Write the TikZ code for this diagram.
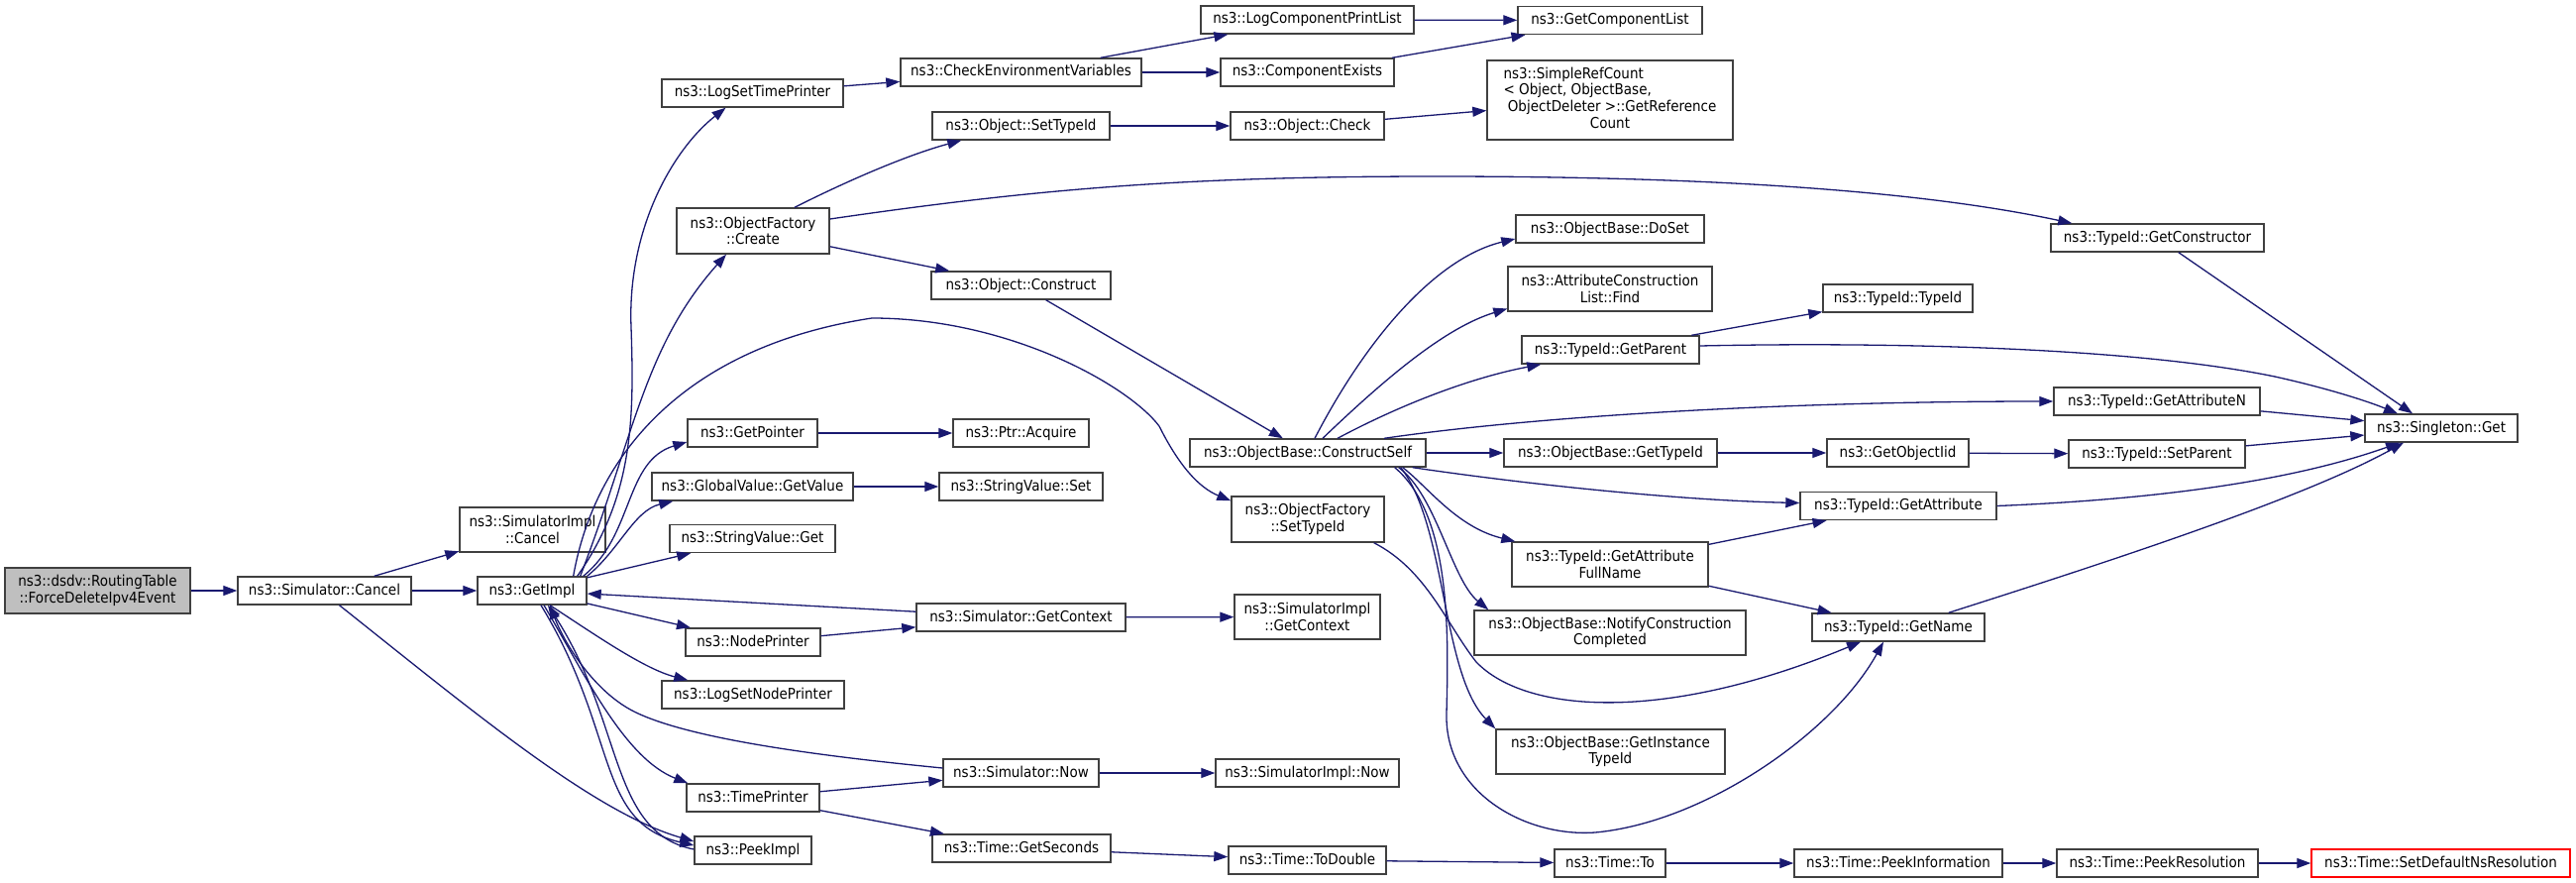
\documentclass[tikz,border=0pt]{standalone}
\usepackage{fontspec}
\setmainfont{DejaVu Sans}[FakeStretch=0.9]
\usetikzlibrary{arrows.meta}
\definecolor{edgec}{HTML}{191970}
\definecolor{boxc}{HTML}{404040}
\definecolor{rootc}{HTML}{BFBFBF}
\tikzset{
 fnbase/.style={draw=boxc, fill=white, line width=1.4pt, inner sep=0pt, font=\fontsize{15}{16.7}\selectfont},
 fn/.style={fnbase, minimum height=28pt, text height=11.5pt, text depth=3.5pt},
 fnm/.style={fnbase, align=center, minimum height=45pt},
 w/.style={minimum width=#1pt},
 call/.style={draw=edgec, line width=1.3pt, -{Triangle[length=14pt,width=10pt]}}
}
\begin{document}
\begin{tikzpicture}[x=1pt,y=-1pt]
\useasboundingbox (0,0) rectangle (2600,891);
\fill[white] (0,0) rectangle (2600,891);
% column 0
\node[fnm, w=187, minimum height=46pt, fill=rootc] (root) at (98.5,596) {ns3::dsdv::RoutingTable\\::ForceDeleteIpv4Event};
\node[fn, w=175] (cancel) at (327.5,596) {ns3::Simulator::Cancel};
\node[fnm, w=147] (implcancel) at (537.5,534.5) {ns3::SimulatorImpl\\::Cancel};
\node[fn, w=110] (getimpl) at (537,596) {ns3::GetImpl};
% column 1
\node[fn, w=183] (logsettime) at (759.5,94) {ns3::LogSetTimePrinter};
\node[fnm, w=154, minimum height=46pt] (ofcreate) at (760,233) {ns3::ObjectFactory\\::Create};
\node[fn, w=131] (getpointer) at (759.5,437) {ns3::GetPointer};
\node[fn, w=203] (getvalue) at (759.5,491) {ns3::GlobalValue::GetValue};
\node[fn, w=167] (svget) at (759.5,543.5) {ns3::StringValue::Get};
\node[fn, w=136] (nodeprinter) at (760,648) {ns3::NodePrinter};
\node[fn, w=184] (logsetnode) at (760,701) {ns3::LogSetNodePrinter};
\node[fn, w=134] (timeprinter) at (760,805) {ns3::TimePrinter};
\node[fn, w=118] (peekimpl) at (760,858) {ns3::PeekImpl};
% column 2
\node[fn, w=243] (checkenv) at (1030.5,73) {ns3::CheckEnvironmentVariables};
\node[fn, w=179] (objsettypeid) at (1030.5,127) {ns3::Object::SetTypeId};
\node[fn, w=181] (objconstruct) at (1030.5,288) {ns3::Object::Construct};
\node[fn, w=137] (ptracquire) at (1030.5,437) {ns3::Ptr::Acquire};
\node[fn, w=165] (svset) at (1030.5,491) {ns3::StringValue::Set};
\node[fn, w=211] (getcontext) at (1030.5,623) {ns3::Simulator::GetContext};
\node[fn, w=157] (simnow) at (1030.5,780) {ns3::Simulator::Now};
\node[fn, w=180] (getseconds) at (1031,856) {ns3::Time::GetSeconds};
% column 3
\node[fn, w=215] (logcompprint) at (1319.5,20) {ns3::LogComponentPrintList};
\node[fn, w=175] (compexists) at (1319.5,73) {ns3::ComponentExists};
\node[fn, w=155] (objcheck) at (1319.5,127) {ns3::Object::Check};
\node[fn, w=238] (constructself) at (1320,457) {ns3::ObjectBase::ConstructSelf};
\node[fnm, w=154, minimum height=46pt] (ofsettypeid) at (1320,524) {ns3::ObjectFactory\\::SetTypeId};
\node[fnm, w=147] (implgetcontext) at (1319.5,622.5) {ns3::SimulatorImpl\\::GetContext};
\node[fn, w=185] (implnow) at (1319.5,780) {ns3::SimulatorImpl::Now};
\node[fn, w=159] (todouble) at (1319.5,868) {ns3::Time::ToDouble};
% column 4
\node[fn, w=186] (getcomplist) at (1625,20.5) {ns3::GetComponentList};
\node[fnbase, minimum width=248pt, minimum height=80pt] (simplerefcount) at (1625,101) {\begin{tabular}{@{}l@{}}ns3::SimpleRefCount\\< Object, ObjectBase,\\\ ObjectDeleter >::GetReference\\\multicolumn{1}{@{}c@{}}{Count}\end{tabular}};
\node[fn, w=190] (doset) at (1625,231) {ns3::ObjectBase::DoSet};
\node[fnm, w=206] (find) at (1625,291.5) {ns3::AttributeConstruction\\List::Find};
\node[fn, w=179] (getparent) at (1625.5,353) {ns3::TypeId::GetParent};
\node[fn, w=215] (obgettypeid) at (1625.5,457) {ns3::ObjectBase::GetTypeId};
\node[fnm, w=198] (fullname) at (1625,569.5) {ns3::TypeId::GetAttribute\\FullName};
\node[fnm, w=274] (notify) at (1625,638.5) {ns3::ObjectBase::NotifyConstruction\\Completed};
\node[fnm, w=231] (instancetypeid) at (1625.5,758.5) {ns3::ObjectBase::GetInstance\\TypeId};
\node[fn, w=112] (timeto) at (1625,871) {ns3::Time::To};
% column 5
\node[fn, w=151] (typeidctor) at (1915.5,301) {ns3::TypeId::TypeId};
\node[fn, w=143] (getobjectiid) at (1915.5,457) {ns3::GetObjectIid};
\node[fn, w=198] (getattribute) at (1916,510.5) {ns3::TypeId::GetAttribute};
\node[fn, w=174] (getname) at (1916,633) {ns3::TypeId::GetName};
\node[fn, w=210] (peekinfo) at (1916,871) {ns3::Time::PeekInformation};
% column 6
\node[fn, w=215] (getconstructor) at (2177.5,240) {ns3::TypeId::GetConstructor};
\node[fn, w=208] (getattributen) at (2177,405) {ns3::TypeId::GetAttributeN};
\node[fn, w=178] (setparent) at (2177,458) {ns3::TypeId::SetParent};
\node[fn, w=203] (peekres) at (2177.5,871) {ns3::Time::PeekResolution};
% column 7
\node[fn, w=154] (singleton) at (2464,432) {ns3::Singleton::Get};
\node[fn, w=261, draw=red] (setdefault) at (2463.5,871) {ns3::Time::SetDefaultNsResolution};

% straight edges
\draw[call] (root) -- (cancel);
\draw[call] (cancel) -- (implcancel);
\draw[call] (cancel) -- (getimpl);
\draw[call] (getimpl) -- (svget);
\draw[call] (getimpl) -- (nodeprinter);
\draw[call] (getcontext) -- (getimpl);
\draw[call] (nodeprinter) -- (getcontext);
\draw[call] (timeprinter) -- (simnow);
\draw[call] (timeprinter) -- (getseconds);
\draw[call] (getpointer) -- (ptracquire);
\draw[call] (getvalue) -- (svset);
\draw[call] (getcontext) -- (implgetcontext);
\draw[call] (simnow) -- (implnow);
\draw[call] (getseconds) -- (todouble);
\draw[call] (todouble) -- (timeto);
\draw[call] (timeto) -- (peekinfo);
\draw[call] (peekinfo) -- (peekres);
\draw[call] (peekres) -- (setdefault);
\draw[call] (logsettime) -- (checkenv);
\draw[call] (checkenv) -- (logcompprint);
\draw[call] (checkenv) -- (compexists);
\draw[call] (logcompprint) -- (getcomplist);
\draw[call] (compexists) -- (getcomplist);
\draw[call] (objsettypeid) -- (objcheck);
\draw[call] (objcheck) -- (simplerefcount);
\draw[call] (ofcreate) -- (objconstruct);
\draw[call] (objconstruct) -- (constructself);
\draw[call] (constructself) -- (obgettypeid);
\draw[call] (obgettypeid) -- (getobjectiid);
\draw[call] (getobjectiid) -- (setparent);
\draw[call] (getparent) -- (typeidctor);
\draw[call] (fullname) -- (getattribute);
\draw[call] (fullname) -- (getname);
\draw[call] (getconstructor) -- ([xshift=-29pt]singleton.north);
\draw[call] (getattributen) -- (singleton);
\draw[call] (setparent) -- (singleton);

% curved edges
\draw[call] ([xshift=15pt]cancel.south) .. controls (480,720) and (600,820) .. ([yshift=9pt]peekimpl.west);
\draw[call] ([xshift=-10pt]getimpl.north east) .. controls (640,500) and (640,420) .. (637,330) .. controls (633,230) and (680,150) .. ([xshift=-27pt]logsettime.south);
\draw[call] ([xshift=-7pt]getimpl.north east) .. controls (640,440) and (650,350) .. ([xshift=-27pt]ofcreate.south);
\draw[call] ([xshift=-14pt]getimpl.north east) .. controls (600,460) and (690,350) .. (880,321) .. controls (1020,321) and (1140,390) .. (1170,430) .. controls (1190,470) and (1210,492) .. ([yshift=-5pt]ofsettypeid.north west);
\draw[call] ([xshift=-4pt]getimpl.north east) .. controls (640,540) and (630,465) .. ([yshift=-9pt]getpointer.west);
\draw[call] (getimpl.north east) .. controls (625,555) and (640,515) .. ([xshift=22pt]getvalue.south west);
\draw[call] ([xshift=18pt]getimpl.south) .. controls (600,640) and (650,675) .. ([xshift=27pt]logsetnode.north west);
\draw[call] ([xshift=12pt]getimpl.south) .. controls (590,680) and (630,765) .. ([xshift=2pt]timeprinter.north west);
\draw[call] ([xshift=9pt]getimpl.south) .. controls (625,740) and (600,830) .. ([yshift=5pt]peekimpl.west);
\draw[call] ([yshift=1pt]peekimpl.west) .. controls (615,840) and (630,730) .. ([xshift=16pt]getimpl.south);
\draw[call] ([yshift=5pt]simnow.west) .. controls (850,765) and (700,748) .. (640,718) .. controls (600,698) and (570,650) .. ([xshift=18pt]getimpl.south);
\draw[call] ([xshift=42pt]ofcreate.north) .. controls (860,180) and (920,155) .. ([xshift=30pt]objsettypeid.south west);
\draw[call] ([yshift=12pt]ofcreate.east) .. controls (1050,190) and (1200,178) .. (1450,178) .. controls (1750,178) and (1950,195) .. ([xshift=22pt]getconstructor.north west);
\draw[call] ([xshift=7pt]constructself.north) .. controls (1380,340) and (1450,260) .. ([yshift=-10pt]doset.west);
\draw[call] ([xshift=15pt]constructself.north) .. controls (1400,380) and (1460,330) .. ([yshift=-20pt]find.west);
\draw[call] ([xshift=30pt]constructself.north) .. controls (1420,405) and (1490,380) .. ([xshift=20pt]getparent.south west);
\draw[call] ([xshift=77pt]constructself.north) .. controls (1550,420) and (1800,405) .. (getattributen.west);
\draw[call] ([xshift=-14pt]constructself.south east) .. controls (1550,490) and (1700,505) .. ([yshift=3pt]getattribute.west);
\draw[call] ([xshift=-24pt]constructself.south east) .. controls (1440,490) and (1470,532) .. ([xshift=4pt]fullname.north west);
\draw[call] ([xshift=-28pt]constructself.south east) .. controls (1450,500) and (1465,585) .. ([xshift=15pt]notify.north west);
\draw[call] ([xshift=-32pt]constructself.south east) .. controls (1465,520) and (1462,640) .. (1460,720) .. controls (1458,800) and (1540,845) .. (1610,840) .. controls (1720,830) and (1850,740) .. ([xshift=-15pt]getname.south);
\draw[call] ([xshift=-26pt]constructself.south east) .. controls (1460,530) and (1455,680) .. (instancetypeid.north west);
\draw[call] ([xshift=-11pt]ofsettypeid.south east) .. controls (1440,575) and (1460,630) .. (1490,668) .. controls (1540,720) and (1680,730) .. ([xshift=-38pt]getname.south);
\draw[call] ([yshift=4pt]getparent.east) .. controls (1900,345) and (2150,350) .. (2296,380) .. controls (2350,392) and (2390,405) .. ([xshift=-44pt]singleton.north);
\draw[call] (getattribute.east) .. controls (2150,505) and (2300,490) .. ([xshift=-42pt]singleton.south);
\draw[call] ([xshift=-37pt]getname.north east) .. controls (2150,560) and (2330,500) .. ([xshift=-38pt]singleton.south);
\end{tikzpicture}
\end{document}
